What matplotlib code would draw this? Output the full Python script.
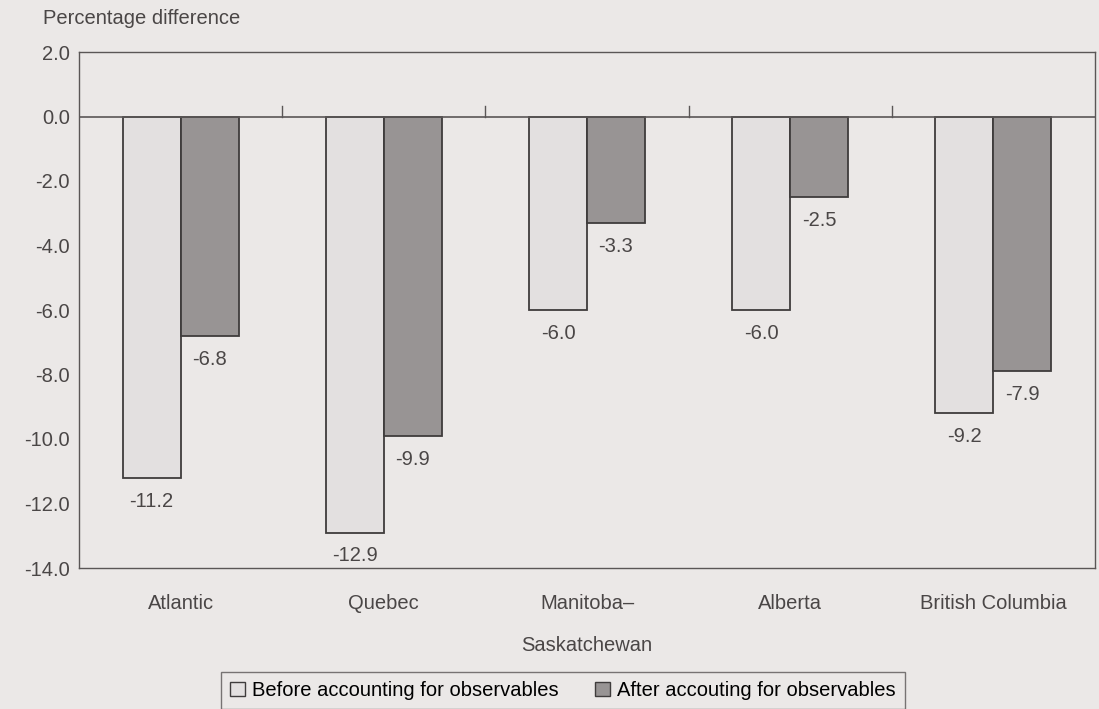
import matplotlib
matplotlib.use("Agg")
import matplotlib.pyplot as plt
import numpy as np

regions = ["Atlantic", "Quebec", "Manitoba–\nSaskatchewan", "Alberta", "British Columbia"]
before = [-11.2, -12.9, -6.0, -6.0, -9.2]
after = [-6.8, -9.9, -3.3, -2.5, -7.9]
series_labels = ["Before accounting for observables", "After accouting for observables"]
y_ticks = [2.0, 0.0, -2.0, -4.0, -6.0, -8.0, -10.0, -12.0, -14.0]

plt.rcParams["font.family"] = ["Liberation Sans", "DejaVu Sans"]
fs = 14.5
bg = "#ebe8e7"
ink = "#4a4646"
line = "#5a5656"

fig = plt.figure(figsize=(10.99, 7.09), dpi=100, facecolor=bg)
ax = fig.add_axes([79 / 1099, 1 - 568 / 709, 1016 / 1099, (568 - 52) / 709])
ax.set_facecolor(bg)

x = np.arange(len(regions))
w = 0.285
b1 = ax.bar(x - w / 2, before, w, color="#e3e0e0", edgecolor="#3f3c3c", linewidth=1.3,
            label=series_labels[0], zorder=3)
b2 = ax.bar(x + w / 2, after, w, color="#989494", edgecolor="#3f3c3c", linewidth=1.3,
            label=series_labels[1], zorder=3)

for bars, vals in ((b1, before), (b2, after)):
    for r, v in zip(bars, vals):
        ax.annotate(f"{v:.1f}", (r.get_x() + r.get_width() / 2, v), xytext=(0, -10),
                    textcoords="offset points", ha="center", va="top",
                    fontsize=fs, color=ink)

ax.axhline(0, color=line, linewidth=1.2, zorder=4)
# category separators rising from the zero line
for b in np.arange(len(regions) - 1) + 0.5:
    ax.plot([b, b], [0, 0.32], color=line, linewidth=1.0, zorder=4)

ax.set_xlim(-0.5, len(regions) - 0.5)
ax.set_ylim(-14, 2)
ax.set_yticks(y_ticks)
ax.set_yticklabels([f"{t:.1f}" for t in y_ticks])
ax.tick_params(axis="y", length=0, pad=6.5, labelsize=fs, labelcolor=ink)
ax.set_xticks(x)
ax.set_xticklabels(regions, linespacing=2.5, va="top")
ax.tick_params(axis="x", length=0, pad=19, labelsize=fs, labelcolor=ink)
for s in ax.spines.values():
    s.set_color(line)
    s.set_linewidth(1.0)

fig.text(43 / 1099, 1 - 19 / 709, "Percentage difference", ha="left", va="center",
         fontsize=fs, color=ink)

leg = fig.legend(handles=[b1, b2], loc="upper left",
                 bbox_to_anchor=(221 / 1099, 1 - 672 / 709), ncol=2, frameon=True,
                 fontsize=fs, handlelength=0.75, handleheight=0.75, handletextpad=0.35,
                 columnspacing=1.8, borderpad=0.45, borderaxespad=0, fancybox=False)
leg.get_frame().set_edgecolor(line)
leg.get_frame().set_facecolor(bg)
leg.get_frame().set_linewidth(1.0)
for h in leg.legend_handles:
    h.set_linewidth(1.0)

fig.savefig("out.png", dpi=100, facecolor=bg)
